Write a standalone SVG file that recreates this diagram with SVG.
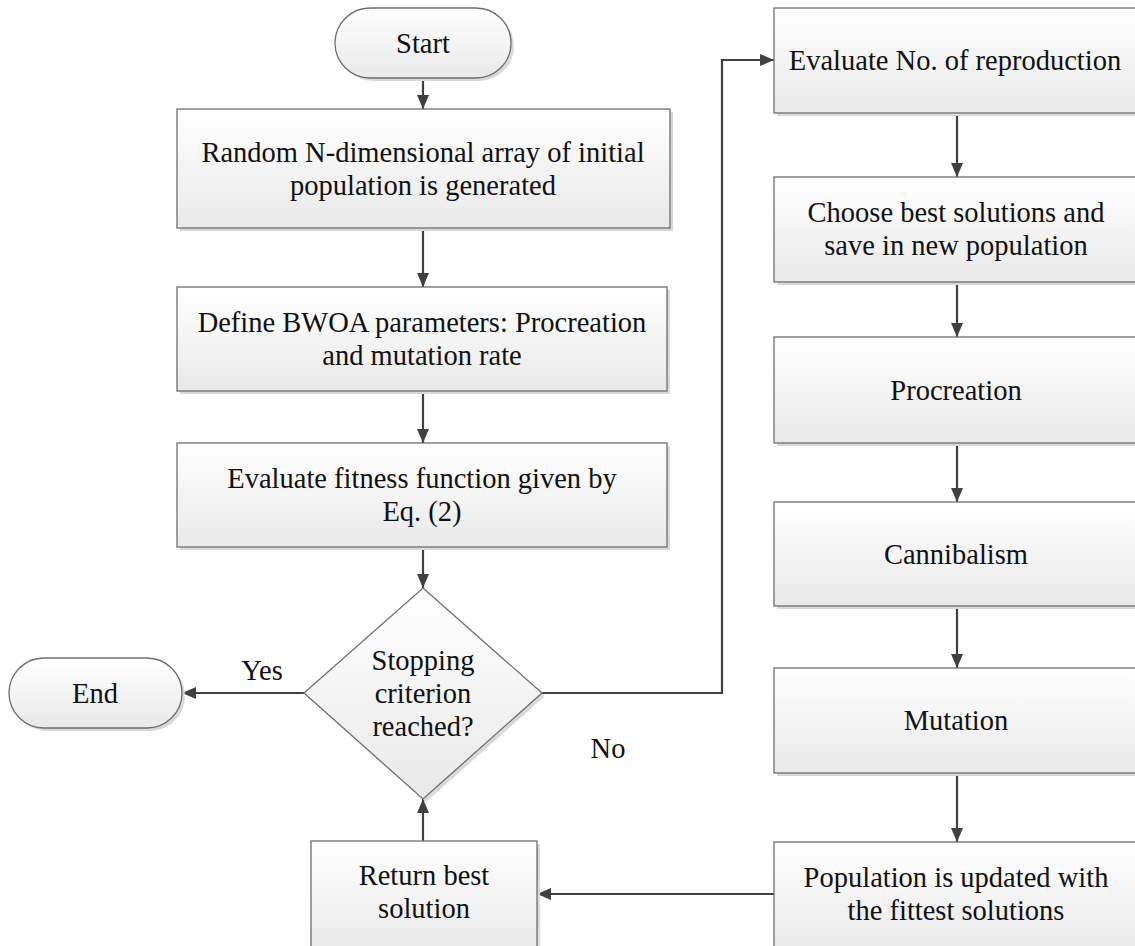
<svg xmlns="http://www.w3.org/2000/svg" width="1135" height="946" viewBox="0 0 1135 946">
<defs>
<linearGradient id="g" x1="0" y1="0" x2="0" y2="1">
<stop offset="0" stop-color="#ffffff"/>
<stop offset="1" stop-color="#e9e9e9"/>
</linearGradient>
<marker id="ah" viewBox="0 0 14 12" refX="14" refY="6" markerWidth="14" markerHeight="12" markerUnits="userSpaceOnUse" orient="auto">
<path d="M0,0 L14,6 L0,12 Z" fill="#404040"/>
</marker>
<style>
.sh{fill:#d9d9d9}
.bx{fill:url(#g);stroke:#6e6e6e;stroke-width:1.3}
.t{font-size:28.5px;fill:#111;text-anchor:middle}
.c{fill:none;stroke:#404040;stroke-width:2.2;marker-end:url(#ah)}
</style>
</defs>
<rect width="1135" height="946" fill="#ffffff"/>
<g font-family="'Liberation Serif', 'DejaVu Serif', serif">

<g id="connectors">
<path class="c" d="M423,78 L423,109"/>
<path class="c" d="M423,228 L423,287"/>
<path class="c" d="M423,391 L423,443"/>
<path class="c" d="M423,547 L423,588"/>
<path class="c" d="M304,693 L182,693"/>
<path class="c" d="M542,693 L722,693 L722,60 L774,60"/>
<path class="c" d="M957,113 L957,177"/>
<path class="c" d="M957,282 L957,337"/>
<path class="c" d="M957,443 L957,502"/>
<path class="c" d="M957,606 L957,668"/>
<path class="c" d="M957,773 L957,842"/>
<path class="c" d="M774,894 L537,894"/>
<path class="c" d="M423,841 L423,799"/>
<text class="t" x="262" y="680">Yes</text>
<text class="t" x="608" y="758">No</text>
</g>

<g id="start">
<rect class="sh" x="338" y="11" width="176" height="70" rx="35"/>
<rect class="bx" x="335" y="8" width="176" height="70" rx="35"/>
<text class="t" x="423" y="53">Start</text>
</g>

<g id="init">
<rect class="sh" x="180" y="112" width="493" height="119"/>
<rect class="bx" x="177" y="109" width="493" height="119"/>
<text class="t" x="423" y="162">Random N-dimensional array of initial</text>
<text class="t" x="423" y="195">population is generated</text>
</g>

<g id="params">
<rect class="sh" x="180" y="290" width="490" height="104"/>
<rect class="bx" x="177" y="287" width="490" height="104"/>
<text class="t" x="422" y="332">Define BWOA parameters: Procreation</text>
<text class="t" x="422" y="365">and mutation rate</text>
</g>

<g id="fitness">
<rect class="sh" x="180" y="446" width="490" height="104"/>
<rect class="bx" x="177" y="443" width="490" height="104"/>
<text class="t" x="422" y="488">Evaluate fitness function given by</text>
<text class="t" x="422" y="521">Eq. (2)</text>
</g>

<g id="decision">
<polygon class="sh" points="426,591 545,696 426,802 307,696"/>
<polygon class="bx" points="423,588 542,693 423,799 304,693"/>
<text class="t" x="423" y="670">Stopping</text>
<text class="t" x="423" y="703">criterion</text>
<text class="t" x="423" y="736">reached?</text>
</g>

<g id="end">
<rect class="sh" x="12" y="661" width="173" height="70" rx="35"/>
<rect class="bx" x="9" y="658" width="173" height="70" rx="35"/>
<text class="t" x="95" y="703">End</text>
</g>

<g id="return">
<rect class="sh" x="314" y="844" width="226" height="110"/>
<rect class="bx" x="311" y="841" width="226" height="110"/>
<text class="t" x="424" y="885">Return best</text>
<text class="t" x="424" y="918">solution</text>
</g>

<g id="reproduction">
<rect class="sh" x="777" y="11" width="370" height="105"/>
<rect class="bx" x="774" y="8" width="370" height="105"/>
<text class="t" x="955" y="70">Evaluate No. of reproduction</text>
</g>

<g id="choose">
<rect class="sh" x="777" y="180" width="370" height="105"/>
<rect class="bx" x="774" y="177" width="370" height="105"/>
<text class="t" x="956" y="222">Choose best solutions and</text>
<text class="t" x="956" y="255">save in new population</text>
</g>

<g id="procreation">
<rect class="sh" x="777" y="340" width="370" height="106"/>
<rect class="bx" x="774" y="337" width="370" height="106"/>
<text class="t" x="956" y="400">Procreation</text>
</g>

<g id="cannibalism">
<rect class="sh" x="777" y="505" width="370" height="104"/>
<rect class="bx" x="774" y="502" width="370" height="104"/>
<text class="t" x="956" y="564">Cannibalism</text>
</g>

<g id="mutation">
<rect class="sh" x="777" y="671" width="370" height="105"/>
<rect class="bx" x="774" y="668" width="370" height="105"/>
<text class="t" x="956" y="730">Mutation</text>
</g>

<g id="population">
<rect class="sh" x="777" y="845" width="370" height="110"/>
<rect class="bx" x="774" y="842" width="370" height="110"/>
<text class="t" x="956" y="887">Population is updated with</text>
<text class="t" x="956" y="920">the fittest solutions</text>
</g>
</g>
</svg>
